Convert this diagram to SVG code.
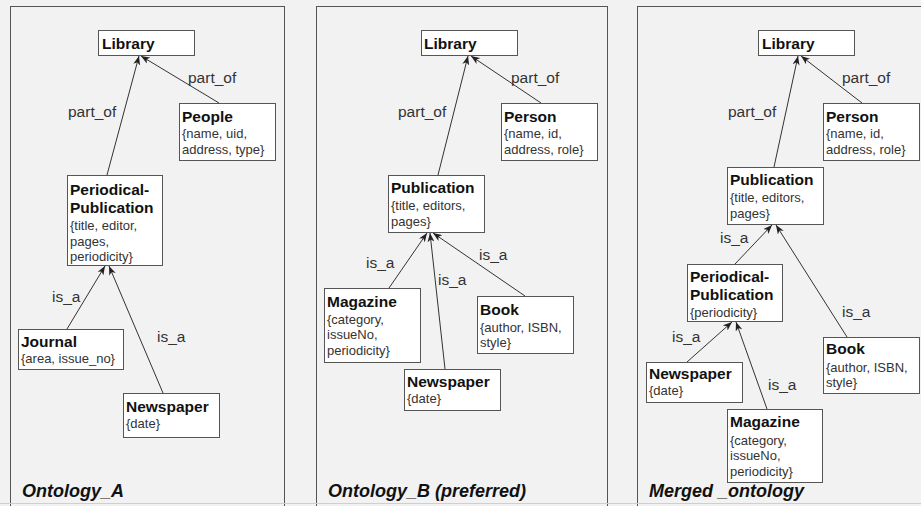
<svg xmlns="http://www.w3.org/2000/svg" width="921" height="506" viewBox="0 0 921 506">
<style>
.bg{fill:#f2f2f2}
.panel{fill:#f2f2f2;stroke:#555;stroke-width:1}
.box{fill:#fff;stroke:#555;stroke-width:1}
.t{font-family:"Liberation Sans",Arial,sans-serif;font-weight:bold;font-size:15.5px;fill:#111}
.a{font-family:"Liberation Sans",Arial,sans-serif;font-size:13px;fill:#333}
.l{font-family:"Liberation Sans",Arial,sans-serif;font-size:15.5px;fill:#333}
.h{font-family:"Liberation Sans",Arial,sans-serif;font-weight:bold;font-style:italic;font-size:18px;fill:#111}
.e{stroke:#333;stroke-width:1;fill:none;marker-end:url(#arr)}
</style>
<defs>
<marker id="arr" viewBox="0 0 9 7" refX="9" refY="3.5" markerWidth="9" markerHeight="7" markerUnits="userSpaceOnUse" orient="auto">
<path d="M0,0 L9,3.5 L0,7 L2.5,3.5 z" fill="#222"/>
</marker>
</defs>
<rect class="bg" x="0" y="0" width="921" height="506"/>
<g id="panels">
<rect class="panel" x="10.5" y="6.5" width="274" height="510"/>
<rect class="panel" x="316.5" y="6.5" width="291" height="510"/>
<rect class="panel" x="637.5" y="6.5" width="290" height="510"/>
<line x1="0" y1="503.5" x2="921" y2="503.5" stroke="#cfcfcf" stroke-width="1"/>
<text class="h" x="22" y="497">Ontology_A</text>
<text class="h" x="328" y="497">Ontology_B (preferred)</text>
<text class="h" x="649" y="497">Merged _ontology</text>
</g>
<g id="connectors">
<line class="e" x1="107" y1="175" x2="139" y2="56"/>
<line class="e" x1="219" y1="103" x2="141" y2="56"/>
<line class="e" x1="67" y1="329" x2="105" y2="266"/>
<line class="e" x1="163" y1="393" x2="109" y2="266"/>
<text class="l" x="68" y="117">part_of</text>
<text class="l" x="188" y="83">part_of</text>
<text class="l" x="52" y="302">is_a</text>
<text class="l" x="157" y="342">is_a</text>
<line class="e" x1="438" y1="175" x2="468" y2="56"/>
<line class="e" x1="541" y1="103" x2="471" y2="56"/>
<line class="e" x1="389" y1="288" x2="427" y2="233"/>
<line class="e" x1="445" y1="369" x2="430" y2="233"/>
<line class="e" x1="525" y1="296" x2="433" y2="233"/>
<text class="l" x="398" y="117">part_of</text>
<text class="l" x="511" y="83">part_of</text>
<text class="l" x="366" y="268">is_a</text>
<text class="l" x="438" y="285">is_a</text>
<text class="l" x="479" y="260">is_a</text>
<line class="e" x1="774" y1="167" x2="798" y2="56"/>
<line class="e" x1="862" y1="103" x2="801" y2="56"/>
<line class="e" x1="735" y1="264" x2="772" y2="225"/>
<line class="e" x1="847" y1="337" x2="776" y2="225"/>
<line class="e" x1="687" y1="362" x2="732" y2="322"/>
<line class="e" x1="767" y1="409" x2="736" y2="322"/>
<text class="l" x="728" y="117">part_of</text>
<text class="l" x="842" y="83">part_of</text>
<text class="l" x="720" y="243">is_a</text>
<text class="l" x="842" y="317">is_a</text>
<text class="l" x="672" y="342">is_a</text>
<text class="l" x="768" y="390">is_a</text>
</g>
<g id="a_library"><rect class="box" x="98.5" y="30.5" width="96" height="25"/><text class="t" x="102" y="49">Library</text></g>
<g id="a_people"><rect class="box" x="179.5" y="103.5" width="96" height="57"/><text class="t" x="182" y="122">People</text><text class="a" x="182" y="138">{name, uid,</text><text class="a" x="182" y="154">address, type}</text></g>
<g id="a_periodical"><rect class="box" x="67.5" y="175.5" width="95" height="90"/><text class="t" x="70" y="195">Periodical-</text><text class="t" x="70" y="213">Publication</text><text class="a" x="70" y="230">{title, editor,</text><text class="a" x="70" y="246">pages,</text><text class="a" x="70" y="261">periodicity}</text></g>
<g id="a_journal"><rect class="box" x="18.5" y="329.5" width="105" height="40"/><text class="t" x="21" y="347">Journal</text><text class="a" x="21" y="363">{area, issue_no}</text></g>
<g id="a_newspaper"><rect class="box" x="123.5" y="393.5" width="96" height="44"/><text class="t" x="126" y="412">Newspaper</text><text class="a" x="126" y="428">{date}</text></g>
<g id="b_library"><rect class="box" x="421.5" y="30.5" width="96" height="25"/><text class="t" x="424" y="49">Library</text></g>
<g id="b_person"><rect class="box" x="501.5" y="103.5" width="96" height="57"/><text class="t" x="504" y="122">Person</text><text class="a" x="504" y="138">{name, id,</text><text class="a" x="504" y="154">address, role}</text></g>
<g id="b_publication"><rect class="box" x="388.5" y="175.5" width="96" height="57"/><text class="t" x="391" y="193">Publication</text><text class="a" x="391" y="210">{title, editors,</text><text class="a" x="391" y="226">pages}</text></g>
<g id="b_magazine"><rect class="box" x="324.5" y="288.5" width="96" height="74"/><text class="t" x="327" y="307">Magazine</text><text class="a" x="327" y="324">{category,</text><text class="a" x="327" y="339">issueNo,</text><text class="a" x="327" y="355">periodicity}</text></g>
<g id="b_newspaper"><rect class="box" x="404.5" y="369.5" width="96" height="41"/><text class="t" x="407" y="387">Newspaper</text><text class="a" x="407" y="403">{date}</text></g>
<g id="b_book"><rect class="box" x="477.5" y="296.5" width="96" height="57"/><text class="t" x="480" y="315">Book</text><text class="a" x="480" y="332">{author, ISBN,</text><text class="a" x="480" y="347">style}</text></g>
<g id="m_library"><rect class="box" x="758.5" y="30.5" width="96" height="25"/><text class="t" x="762" y="49">Library</text></g>
<g id="m_person"><rect class="box" x="823.5" y="103.5" width="96" height="57"/><text class="t" x="826" y="122">Person</text><text class="a" x="826" y="138">{name, id,</text><text class="a" x="826" y="154">address, role}</text></g>
<g id="m_publication"><rect class="box" x="727.5" y="167.5" width="96" height="57"/><text class="t" x="730" y="185">Publication</text><text class="a" x="730" y="202">{title, editors,</text><text class="a" x="730" y="218">pages}</text></g>
<g id="m_periodical"><rect class="box" x="687.5" y="264.5" width="95" height="57"/><text class="t" x="690" y="282">Periodical-</text><text class="t" x="690" y="300">Publication</text><text class="a" x="690" y="317">{periodicity}</text></g>
<g id="m_book"><rect class="box" x="823.5" y="337.5" width="96" height="56"/><text class="t" x="826" y="354">Book</text><text class="a" x="826" y="372">{author, ISBN,</text><text class="a" x="826" y="387">style}</text></g>
<g id="m_newspaper"><rect class="box" x="646.5" y="362.5" width="96" height="40"/><text class="t" x="649" y="379">Newspaper</text><text class="a" x="649" y="395">{date}</text></g>
<g id="m_magazine"><rect class="box" x="727.5" y="409.5" width="95" height="73"/><text class="t" x="730" y="427">Magazine</text><text class="a" x="730" y="445">{category,</text><text class="a" x="730" y="460">issueNo,</text><text class="a" x="730" y="476">periodicity}</text></g>
</svg>
